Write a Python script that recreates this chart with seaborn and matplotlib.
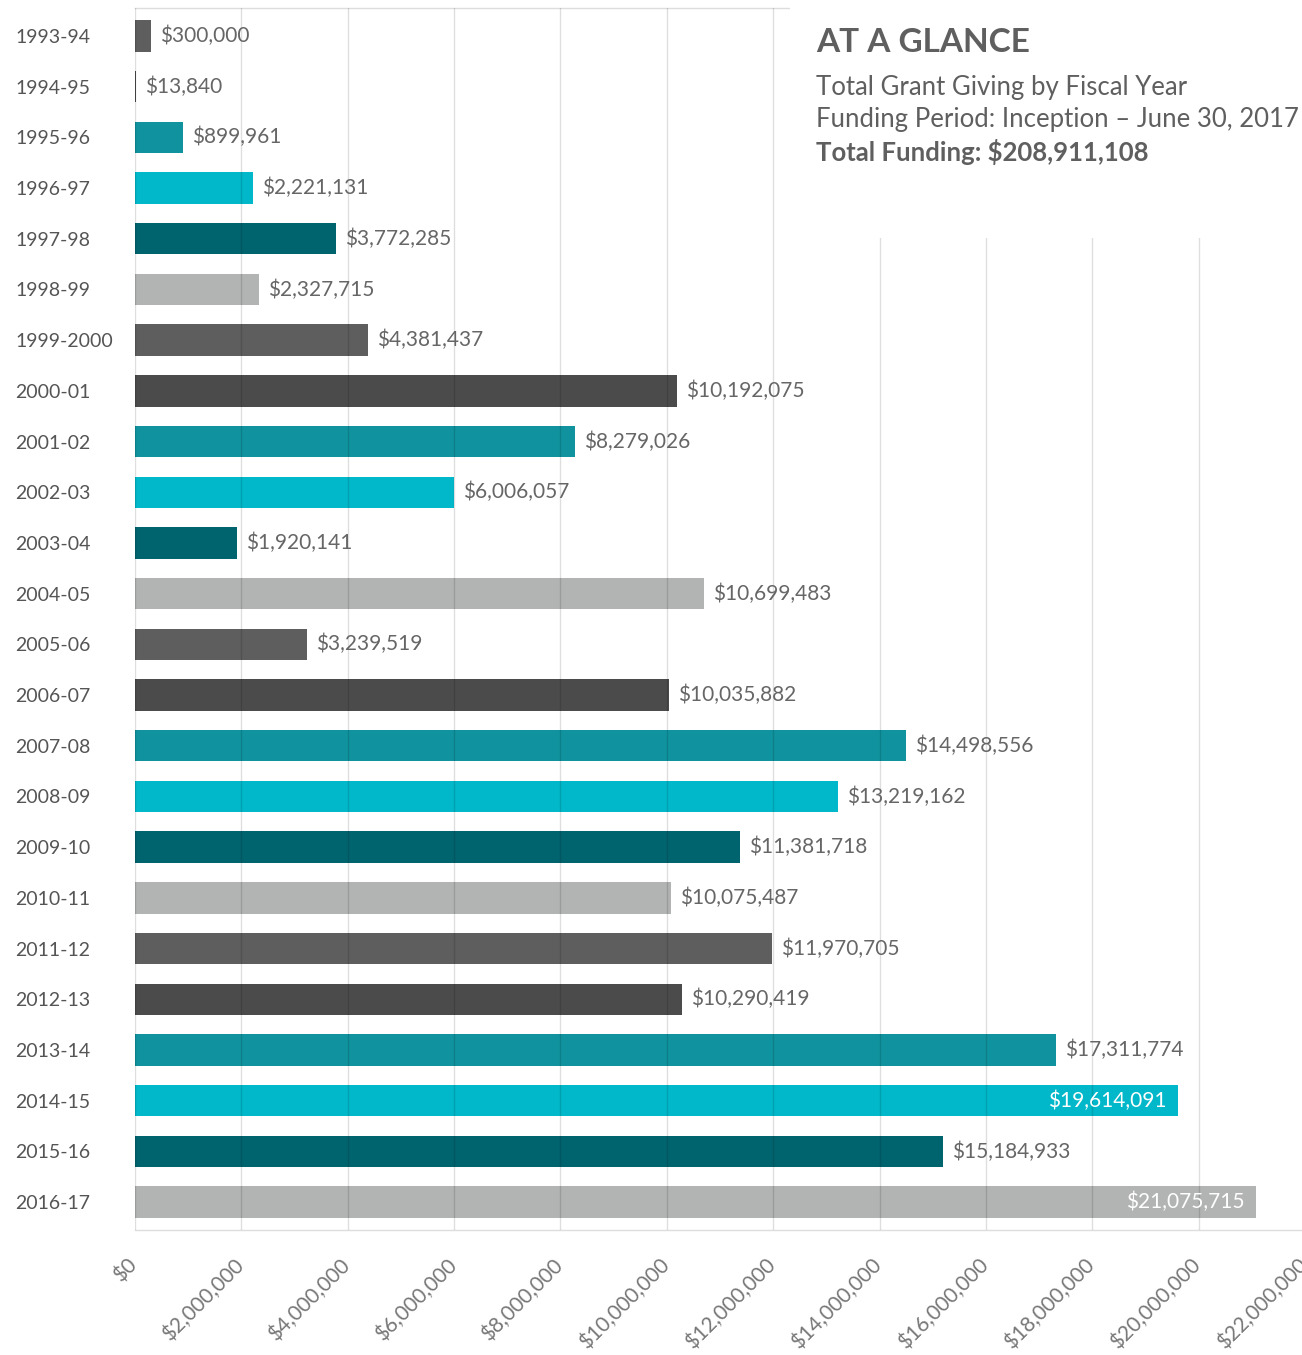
import matplotlib
matplotlib.use("Agg")
import matplotlib.pyplot as plt
import matplotlib.transforms as mtransforms
import seaborn as sns
import pandas as pd
from matplotlib.patches import Rectangle
from matplotlib.ticker import FuncFormatter, MultipleLocator

years = ["1993-94", "1994-95", "1995-96", "1996-97", "1997-98", "1998-99",
         "1999-2000", "2000-01", "2001-02", "2002-03", "2003-04", "2004-05",
         "2005-06", "2006-07", "2007-08", "2008-09", "2009-10", "2010-11",
         "2011-12", "2012-13", "2013-14", "2014-15", "2015-16", "2016-17"]
amounts = [300000, 13840, 899961, 2221131, 3772285, 2327715,
           4381437, 10192075, 8279026, 6006057, 1920141, 10699483,
           3239519, 10035882, 14498556, 13219162, 11381718, 10075487,
           11970705, 10290419, 17311774, 19614091, 15184933, 21075715]
inside_labels = ["2014-15", "2016-17"]
cycle_colors = ["#5e5e5e", "#4b4b4b", "#10939e", "#00b8c9", "#00646f", "#b2b3b3"]

title = "AT A GLANCE"
subtitle_lines = ["Total Grant Giving by Fiscal Year",
                  "Funding Period: Inception \u2013 June 30, 2017"]
total_line = "Total Funding: $208,911,108"

sns.set_theme(style="white")
plt.rcParams["font.family"] = ["Lato", "DejaVu Sans"]

W, H = 1302, 1355
fig = plt.figure(figsize=(W / 100, H / 100), dpi=100)
ax = fig.add_axes([135 / W, 125 / H, 1170 / W, 1222 / H])

df = pd.DataFrame({"year": years, "amount": amounts})
palette = {y: cycle_colors[i % len(cycle_colors)] for i, y in enumerate(years)}
sns.barplot(data=df, x="amount", y="year", hue="year", palette=palette,
            orient="h", width=0.62, legend=False, saturation=1, ax=ax,
            linewidth=0)

ax.set_xlim(0, 22000000)
ax.set_ylim(len(years) - 0.45, -0.55)
ax.set_xlabel("")
ax.set_ylabel("")

ax.xaxis.set_major_locator(MultipleLocator(2000000))
ax.xaxis.set_major_formatter(FuncFormatter(lambda v, p: "${:,.0f}".format(v)))
ax.grid(axis="x", color="black", alpha=0.13, linewidth=1.0)
ax.grid(axis="y", visible=False)
ax.set_axisbelow(False)

for s in ["left", "right"]:
    ax.spines[s].set_visible(False)
for s in ["top", "bottom"]:
    ax.spines[s].set_visible(True)
    ax.spines[s].set_color("#dddddd")
    ax.spines[s].set_linewidth(1.0)

ax.tick_params(axis="y", length=0, pad=86, labelsize=14, labelcolor="#555555")
for lbl in ax.get_yticklabels():
    lbl.set_horizontalalignment("left")
ax.tick_params(axis="x", length=0, pad=18, labelsize=15, labelcolor="#777777")
shift = mtransforms.ScaledTranslation(-8 / 100, 0, fig.dpi_scale_trans)
for lbl in ax.get_xticklabels():
    lbl.set_rotation(45)
    lbl.set_horizontalalignment("right")
    lbl.set_rotation_mode("anchor")
    lbl.set_transform(lbl.get_transform() + shift)

for i, (y, v) in enumerate(zip(years, amounts)):
    txt = "${:,.0f}".format(v)
    if y in inside_labels:
        ax.annotate(txt, xy=(v, i), xytext=(-8, 0), textcoords="offset points",
                    ha="right", va="center", fontsize=15, color="white", zorder=4)
    else:
        ax.annotate(txt, xy=(v, i), xytext=(6.5, 0), textcoords="offset points",
                    ha="left", va="center", fontsize=15, color="#666666", zorder=4)

# white panel for the header text in the upper right
fig.add_artist(Rectangle((790 / W, 1 - 238 / H), 1 - 790 / W, 238 / H,
                         transform=fig.transFigure, facecolor="white",
                         edgecolor="none", zorder=5))
fig.text(816 / W, 1 - 42 / H, title, fontsize=24, fontweight="bold",
         color="#5f5f5f", va="center", ha="left", zorder=6)
for k, line in enumerate(subtitle_lines):
    fig.text(816 / W, 1 - (88 + 32 * k) / H, line, fontsize=18.5,
             color="#5f5f5f", va="center", ha="left", zorder=6)
fig.text(816 / W, 1 - 152 / H, total_line, fontsize=18.5, fontweight="bold",
         color="#5f5f5f", va="center", ha="left", zorder=6)

fig.savefig("out.png", dpi=100, facecolor="white")
